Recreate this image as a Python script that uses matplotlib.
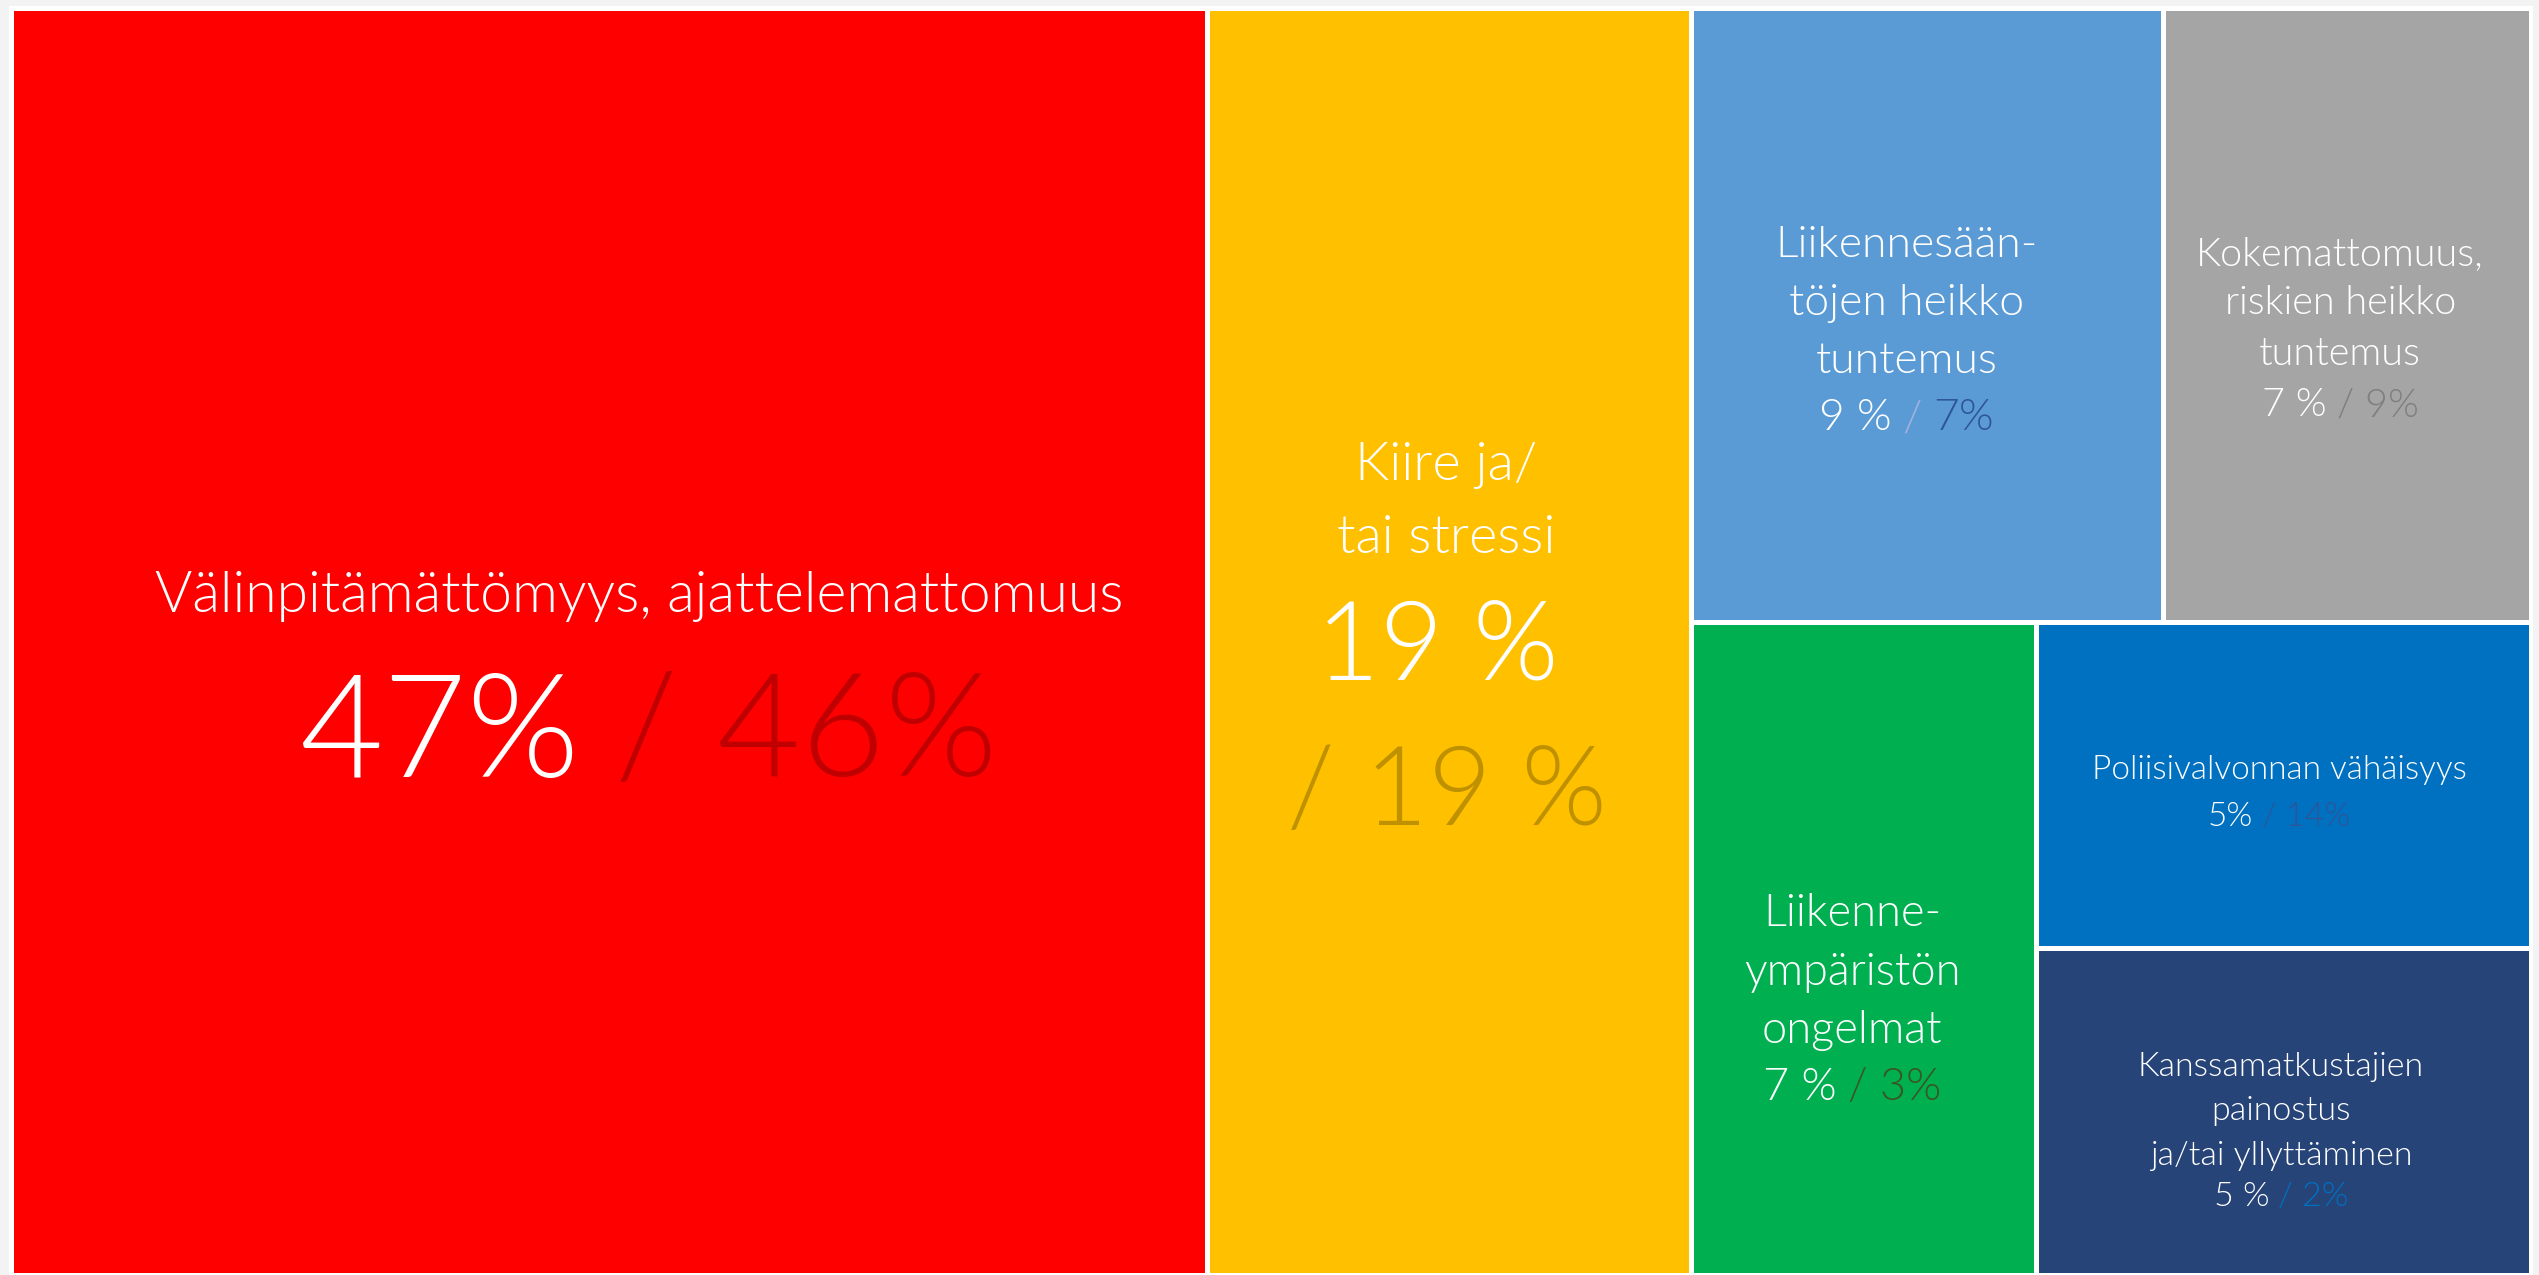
import matplotlib
matplotlib.use('Agg')
import matplotlib.pyplot as plt
from matplotlib.patches import Rectangle

plt.rcParams['font.family'] = ['Lato', 'DejaVu Sans']

# data
labels = ['Välinpitämättömyys, ajattelemattomuus',
          'Kiire ja/\ntai stressi',
          'Liikennesään-\ntöjen heikko\ntuntemus',
          'Kokemattomuus,\nriskien heikko\ntuntemus',
          'Liikenne-\nympäristön\nongelmat',
          'Poliisivalvonnan vähäisyys',
          'Kanssamatkustajien\npainostus\nja/tai yllyttäminen']
shares = [47, 19, 9, 7, 7, 5, 5]
share_text = ['47%', '19 %', '9 %', '7 %', '7 %', '5%', '5 %']
compare_text = ['46%', '19 %', '7%', '9%', '3%', '14%', '2%']

box_colors = ['#ff0000', '#ffc000', '#5b9bd5', '#a5a5a5', '#00b050', '#0070c0', '#264478']
compare_colors = ['#c00000', '#bf9000', '#2f5597', '#7f7f7f', '#385723', '#2f5597', '#0070c0']
slash_colors = [None, None, '#a3b2de', None, None, None, None]

# style
title_size = [41, 39, 32, 28.5, 32.5, 24, 24.5]
value_size = [104, 79, 32, 28.5, 32.5, 24, 24.5]
# (dx, dy) of each text line from the box centre, px
offsets = [
    [(30, -50), (39, 83)],
    [(-3, -181), (-3, -108), (-12, -1), (-2, 144)],
    [(-21, -74), (-21, -16), (-21, 42), (-21, 99)],
    [(-7, -64), (-7, -15), (-7, 36), (-7, 87)],
    [(-12, -39), (-12, 20), (-12, 78), (-12, 135)],
    [(-5, -18), (-5, 29)],
    [(-3, -48), (-3, -4), (-3, 41), (-3, 82)],
]

W, H = 2539, 1275
X0, Y0, X1, Y1 = 11, 8, 2531, 1275
gap = 5


def treemap(x0, y0, w, h, v):
    tot = sum(v)
    rects = []
    x = x0
    for s in v[:2]:
        cw = w * s / tot
        rects.append((x, y0, cw, h))
        x += cw
    rw = x0 + w - x
    top = v[2] + v[3]
    th = h * top / sum(v[2:])
    rects.append((x, y0, rw * v[2] / top, th))
    rects.append((x + rw * v[2] / top, y0, rw * v[3] / top, th))
    gw = rw * v[4] / sum(v[4:])
    bh = h - th
    h5 = bh * v[5] / (v[5] + v[6])
    rects.append((x, y0 + th, gw, bh))
    rects.append((x + gw, y0 + th, rw - gw, h5))
    rects.append((x + gw, y0 + th + h5, rw - gw, bh - h5))
    return rects


def draw_line(ax, cx, cy, parts, size, renderer):
    px = size * 100 / 72
    texts = [ax.text(0, 0, s, color=c, fontsize=size, fontweight=300,
                     ha='left', va='baseline') for s, c in parts]
    widths = [t.get_window_extent(renderer).width for t in texts]
    sp = 0.25 * px
    total = sum(widths) + sp * (len(parts) - 1)
    x = cx - total / 2
    base = cy + 0.36 * px
    for t, w in zip(texts, widths):
        t.set_position((x, base))
        x += w + sp


fig = plt.figure(figsize=(W / 100, H / 100), dpi=100, facecolor='#f3f3f3')
ax = fig.add_axes([0, 0, 1, 1])
ax.set_xlim(0, W)
ax.set_ylim(H, 0)
ax.axis('off')
renderer = fig.canvas.get_renderer()

ax.add_patch(Rectangle((X0 - 2, Y0 - 2), X1 - X0 + 4, Y1 - Y0 + 4, color='white', lw=0))

rects = treemap(X0, Y0, X1 - X0, Y1 - Y0, shares)
for i, (x, y, w, h) in enumerate(rects):
    ax.add_patch(Rectangle((x + gap / 2, y + gap / 2), w - gap, h - gap,
                           color=box_colors[i], lw=0))
    cx, cy = x + w / 2, y + h / 2

    lines = [([(s, 'white')], title_size[i]) for s in labels[i].split('\n')]
    if i == 1:
        lines.append(([(share_text[i], 'white')], value_size[i]))
        lines.append(([('/ ' + compare_text[i], compare_colors[i])], value_size[i]))
    elif slash_colors[i]:
        lines.append(([(share_text[i], 'white'), ('/', slash_colors[i]),
                       (compare_text[i], compare_colors[i])], value_size[i]))
    else:
        lines.append(([(share_text[i], 'white'),
                       ('/ ' + compare_text[i], compare_colors[i])], value_size[i]))

    for (parts, size), (dx, dy) in zip(lines, offsets[i]):
        draw_line(ax, cx + dx, cy + dy, parts, size, renderer)

fig.savefig('out.png', dpi=100, facecolor=fig.get_facecolor())
